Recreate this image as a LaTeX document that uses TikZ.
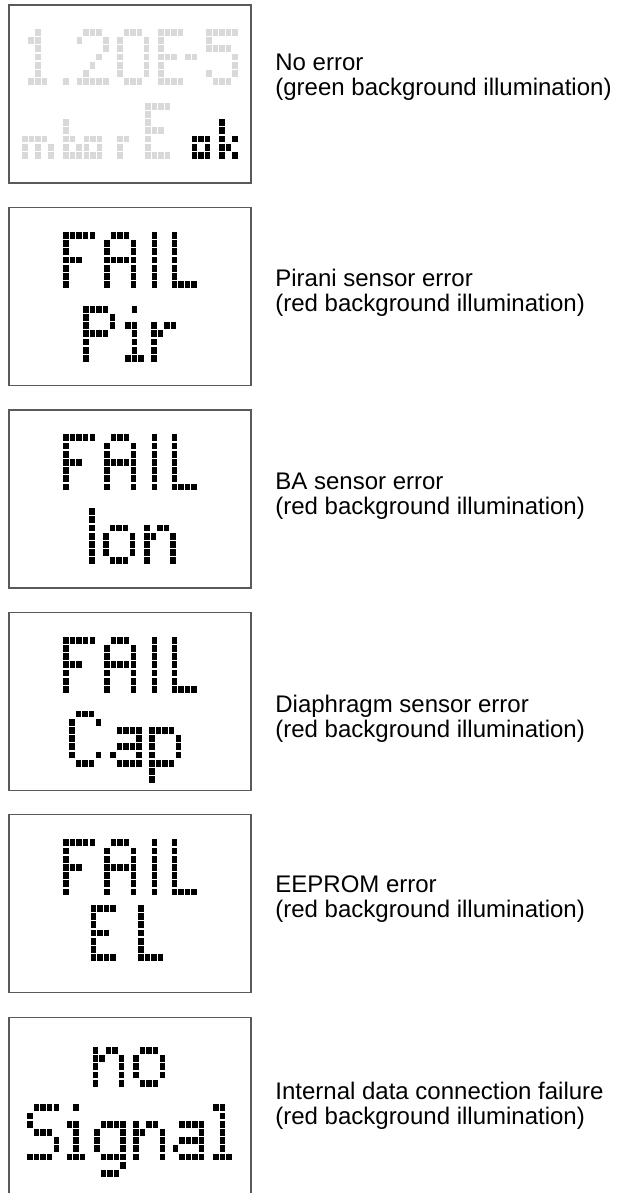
\documentclass[tikz,border=0pt]{standalone}
\usepackage{fontspec}
\setmainfont{Liberation Sans}
\definecolor{dmoff}{HTML}{D9D9D9}
\definecolor{frame}{HTML}{5A5A5A}

% dot matrix: pitch and dot size (in reference pixels)
\def\dmpx{6.55}
\def\dmpy{8.2}
\def\dmpw{5.5}
\def\dmph{6.8}
\newcommand{\dmglyph}[4][]{%
  \foreach \dmrow [count=\rowno from 0] in #4 {%
    \foreach \bit [count=\colno from 0] in \dmrow {%
      \ifnum\bit=1
        \fill[pix,#1] ({#2+\colno*\dmpx},{#3+\rowno*\dmpy}) rectangle ++(\dmpw,\dmph);
      \fi}}}

% glyph bitmaps, one list per row
\def\glF{{1,1,1,1,1},{1},{1},{1,1,1},{1},{1},{1}}
\def\glA{{0,1,1,1,0},{1,0,0,0,1},{1,0,0,0,1},{1,1,1,1,1},{1,0,0,0,1},{1,0,0,0,1},{1,0,0,0,1}}
\def\glI{{1},{1},{1},{1},{1},{1},{1}}
\def\glL{{1},{1},{1},{1},{1},{1},{1,1,1,1}}
\def\glP{{1,1,1,1,0},{1,0,0,0,1},{1,0,0,0,1},{1,1,1,1,0},{1},{1},{1}}
\def\glC{{0,1,1,1,0},{1,0,0,0,1},{1},{1},{1},{1,0,0,0,1},{0,1,1,1,0}}
\def\glE{{1,1,1,1},{1},{1},{1,1,1},{1},{1},{1,1,1,1}}
\def\glS{{0,1,1,1,1},{1},{1},{0,1,1,1,0},{0,0,0,0,1},{0,0,0,0,1},{1,1,1,1,0}}
\def\gli{{0,0,1},{0},{0,1,1},{0,0,1},{0,0,1},{0,0,1},{0,1,1,1}}
\def\glr{{0},{0},{1,0,1,1},{1,1},{1},{1},{1}}
\def\glo{{0},{0},{0,1,1,1,0},{1,0,0,0,1},{1,0,0,0,1},{1,0,0,0,1},{0,1,1,1,0}}
\def\gln{{0},{0},{1,0,1,1,0},{1,1,0,0,1},{1,0,0,0,1},{1,0,0,0,1},{1,0,0,0,1}}
\def\gla{{0},{0},{0,1,1,1,1},{0,0,0,0,1},{0,1,1,1,1},{1,0,0,0,1},{0,1,1,1,1}}
\def\glp{{0},{0},{1,1,1,1,0},{1,0,0,0,1},{1,0,0,0,1},{1,0,0,0,1},{1,1,1,1,0},{1},{1}}
\def\glg{{0},{0},{0,1,1,1,1},{1,0,0,0,1},{1,0,0,0,1},{1,0,0,0,1},{0,1,1,1,1},{0,0,0,0,1},{0,1,1,1,0}}
\def\gll{{1,1},{0,1},{0,1},{0,1},{0,1},{0,1},{1,1,1}}
\def\glone{{0,0,1},{0,1,1},{0,0,1},{0,0,1},{0,0,1},{0,0,1},{0,1,1,1}}
\def\gldot{{0},{0},{0},{0},{0},{0},{1}}
\def\gltwo{{0,1,1,1,0},{1,0,0,0,1},{0,0,0,0,1},{0,0,0,1},{0,0,1},{0,1},{1,1,1,1,1}}
\def\glzero{{0,1,1,1,0},{1,0,0,0,1},{1,0,0,0,1},{1,0,0,0,1},{1,0,0,0,1},{1,0,0,0,1},{0,1,1,1,0}}
\def\glminus{{0},{0},{0},{1,1}}
\def\glfive{{1,1,1,1,1},{1},{1,1,1,1},{0,0,0,0,1},{0,0,0,0,1},{1,0,0,0,1},{0,1,1,1,0}}
% small unit glyphs
\def\glsm{{0},{0},{0},{0},{1,1,1,1},{1,0,1,0,1},{1,0,1,0,1}}
\def\glsb{{0},{0},{1},{1},{1,1},{1,0,1},{1,1,1}}
\def\glsa{{0},{0},{0},{0},{1,1,1},{1,0,1},{1,1,1}}
\def\glsr{{0},{0},{0},{0},{1,1},{1},{1}}
\def\glsk{{0},{0},{1},{1},{1,0,1},{1,1},{1,0,1}}

\begin{document}
\begin{tikzpicture}[x=0.5pt, y=-0.5pt,
  display/.style={draw=frame, line width=0.6pt},
  pix/.style={fill=black},
  pixoff/.style={fill=dmoff},
  caption/.style={anchor=west, inner sep=0pt, align=left,
                  font=\fontsize{12}{12.5}\selectfont},
]
  \useasboundingbox (0,0) rectangle (616,1193);

  % no error
  \begin{scope}[shift={(9,5)}]
    \draw[display] (0,0) rectangle (242,178);
    \dmglyph[pixoff]{12.9}{24}{\glone}
    \dmglyph[pixoff]{54.3}{24}{\gldot}
    \dmglyph[pixoff]{67.8}{24}{\gltwo}
    \dmglyph[pixoff]{108.3}{24}{\glzero}
    \dmglyph[pixoff]{149.3}{24}{\glE}
    \dmglyph[pixoff]{176}{24}{\glminus}
    \dmglyph[pixoff]{197}{24}{\glfive}
    \dmglyph[pixoff]{13}{97.8}{\glsm}
    \dmglyph[pixoff]{54.3}{97.8}{\glsb}
    \dmglyph[pixoff]{74.5}{97.8}{\glsa}
    \dmglyph[pixoff]{108.3}{97.8}{\glsr}
    \dmglyph[pixoff]{136}{97.8}{\glE}
    \dmglyph{182.7}{97.8}{\glsa}
    \dmglyph{210.3}{97.8}{\glsk}
  \end{scope}
  \node[caption] (cap1) at (275,77) {No error\\(green background illumination)};

  % Pirani
  \begin{scope}[shift={(9,207.45)}]
    \draw[display] (0,0) rectangle (242,178);
    \dmglyph{54.3}{24.5}{\glF}
    \dmglyph{95.3}{24.5}{\glA}
    \dmglyph{142.7}{24.5}{\glI}
    \dmglyph{162.7}{24.5}{\glL}
    \dmglyph{74.3}{98.3}{\glP}
    \dmglyph{109.6}{98.3}{\gli}
    \dmglyph{142}{98.3}{\glr}
  \end{scope}
  \node[caption] (cap2) at (275,292.5) {Pirani sensor error\\(red background illumination)};

  % BA
  \begin{scope}[shift={(9,409.9)}]
    \draw[display] (0,0) rectangle (242,178);
    \dmglyph{54.3}{24.5}{\glF}
    \dmglyph{95.3}{24.5}{\glA}
    \dmglyph{142.7}{24.5}{\glI}
    \dmglyph{162.7}{24.5}{\glL}
    \dmglyph{80.3}{98.3}{\glI}
    \dmglyph{94.3}{98.3}{\glo}
    \dmglyph{135}{98.3}{\gln}
  \end{scope}
  \node[caption] (cap3) at (275,496.5) {BA sensor error\\(red background illumination)};

  % diaphragm
  \begin{scope}[shift={(9,612.35)}]
    \draw[display] (0,0) rectangle (242,178);
    \dmglyph{54.3}{24.5}{\glF}
    \dmglyph{95.3}{24.5}{\glA}
    \dmglyph{142.7}{24.5}{\glI}
    \dmglyph{162.7}{24.5}{\glL}
    \dmglyph{60.3}{98.3}{\glC}
    \dmglyph{101}{98.3}{\gla}
    \dmglyph{140.3}{98.3}{\glp}
  \end{scope}
  \node[caption] (cap4) at (275,718.5) {Diaphragm sensor error\\(red background illumination)};

  % EEPROM
  \begin{scope}[shift={(9,814.8)}]
    \draw[display] (0,0) rectangle (242,178);
    \dmglyph{54.3}{24.5}{\glF}
    \dmglyph{95.3}{24.5}{\glA}
    \dmglyph{142.7}{24.5}{\glI}
    \dmglyph{162.7}{24.5}{\glL}
    \dmglyph{81.7}{90.1}{\glE}
    \dmglyph{129.3}{90.1}{\glL}
  \end{scope}
  \node[caption] (cap5) at (275,899) {EEPROM error\\(red background illumination)};

  % no signal
  \begin{scope}[shift={(9,1017.25)}]
    \draw[display] (0,0) rectangle (242,178);
    \dmglyph{83.7}{13.3}{\gln}
    \dmglyph{124.3}{13.3}{\glo}
    \dmglyph{18.3}{87.1}{\glS}
    \dmglyph{51.2}{87.1}{\gli}
    \dmglyph{85}{87.1}{\glg}
    \dmglyph{124.3}{87.1}{\gln}
    \dmglyph{163.7}{87.1}{\gla}
    \dmglyph{204.3}{87.1}{\gll}
  \end{scope}
  \node[caption] (cap6) at (275,1105.5) {Internal data connection failure\\(red background illumination)};
\end{tikzpicture}
\end{document}
